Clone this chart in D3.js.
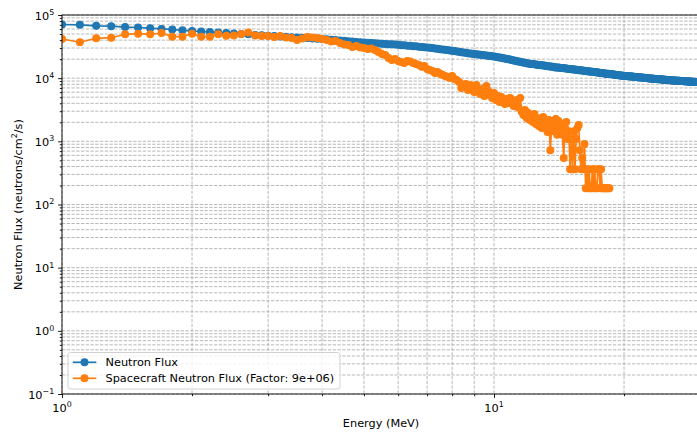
<!DOCTYPE html>
<html><head><meta charset="utf-8">
<script src="https://cdn.jsdelivr.net/npm/d3@7"></script>
<style>body{margin:0;background:#fff}svg{display:block;font-family:"DejaVu Sans",sans-serif}</style>
</head><body><svg id="c" width="697" height="432"></svg>
<script>
// Energy grid (MeV)
const energy = [
1.0,1.1,1.2,1.3,1.4,1.5,1.6,1.7,1.8,1.9,
2.0,2.1,2.2,2.3,2.4,2.5,2.6,2.7,2.8,2.9,
3.0,3.1,3.2,3.3,3.4,3.5,3.6,3.7,3.8,3.9,
4.0,4.1,4.2,4.3,4.4,4.5,4.6,4.7,4.8,4.9,
5.0,5.1,5.2,5.3,5.4,5.5,5.6,5.7,5.8,5.9,
6.0,6.1,6.2,6.3,6.4,6.5,6.6,6.7,6.8,6.9,
7.0,7.1,7.2,7.3,7.4,7.5,7.6,7.7,7.8,7.9,
8.0,8.1,8.2,8.3,8.4,8.5,8.6,8.7,8.8,8.9,
9.0,9.1,9.2,9.3,9.4,9.5,9.6,9.7,9.8,9.9,
10.0,10.1,10.2,10.3,10.4,10.5,10.6,10.7,10.8,10.9,
11.0,11.1,11.2,11.3,11.4,11.5,11.6,11.7,11.8,11.9,
12.0,12.1,12.2,12.3,12.4,12.5,12.6,12.7,12.8,12.9,
13.0,13.1,13.2,13.3,13.4,13.5,13.6,13.7,13.8,13.9,
14.0,14.1,14.2,14.3,14.4,14.5,14.6,14.7,14.8,14.9,
15.0,15.1,15.2,15.3,15.4,15.5,15.6,15.7,15.8,15.9,
16.0,16.1,16.2,16.3,16.4,16.5,16.6,16.7,16.8,16.9,
17.0,17.1,17.2,17.3,17.4,17.5,17.6,17.7,17.8,17.9,
18.0,18.1,18.2,18.3,18.4,18.5,18.6,18.7,18.8,18.9,
19.0,19.1,19.2,19.3,19.4,19.5,19.6,19.7,19.8,19.9,
20.0,20.1,20.2,20.3,20.4,20.5,20.6,20.7,20.8,20.9,
21.0,21.1,21.2,21.3,21.4,21.5,21.6,21.7,21.8,21.9,
22.0,22.1,22.2,22.3,22.4,22.5,22.6,22.7,22.8,22.9,
23.0,23.1,23.2,23.3,23.4,23.5,23.6,23.7,23.8,23.9,
24.0,24.1,24.2,24.3,24.4,24.5,24.6,24.7,24.8,24.9,
25.0,25.1,25.2,25.3,25.4,25.5,25.6,25.7,25.8,25.9,
26.0,26.1,26.2,26.3,26.4,26.5,26.6,26.7,26.8,26.9,
27.0,27.1,27.2,27.3,27.4,27.5,27.6,27.7,27.8,27.9,
28.0,28.1,28.2,28.3,28.4,28.5,28.6,28.7,28.8,28.9,
29.0,29.1,29.2,29.3,29.4,29.5,29.6,29.7,29.8,29.9,
30.0];

// Neutron Flux (neutrons/cm^2/s), one per energy
const neutronFlux = [
70700,69800,67400,66600,64500,63400,61800,60100,58900,57100,
55800,55000,53700,53000,51800,51000,50000,49500,48300,47800,
46900,46400,45600,45200,44500,44100,43500,43200,42500,42100,
41700,41300,40500,40100,39500,39100,38500,38200,37500,37200,
36700,36500,36000,35800,35400,35100,34900,34500,34300,34000,
33800,33300,33200,32700,32500,32100,31900,31500,31200,30900,
30600,30300,29900,29500,29200,28800,28500,28100,27800,27400,
27100,26900,26400,26200,25800,25500,25300,24900,24600,24400,
24200,23900,23700,23500,23200,23000,22800,22600,22400,22200,
22000,21800,21500,21200,21000,20700,20400,20200,19900,19700,
19400,19100,18900,18600,18400,18200,17900,17700,17500,17300,
17100,16900,16800,16700,16600,16400,16300,16200,16100,16000,
15900,15800,15600,15500,15400,15300,15200,15100,14900,14800,
14800,14700,14600,14500,14500,14400,14300,14200,14100,14000,
14000,13900,13800,13700,13700,13600,13500,13400,13400,13300,
13200,13100,13100,13000,12900,12900,12800,12700,12600,12600,
12500,12500,12400,12400,12300,12200,12200,12100,12100,12000,
11900,11900,11800,11800,11700,11600,11600,11500,11500,11400,
11300,11300,11200,11200,11100,11100,11000,11000,10950,10900,
10900,10870,10830,10800,10760,10730,10690,10660,10620,10590,
10550,10520,10480,10450,10410,10380,10350,10310,10280,10240,
10210,10180,10150,10120,10080,10050,10020,9990,9950,9920,
9890,9870,9840,9820,9790,9770,9740,9720,9690,9670,
9640,9620,9600,9570,9550,9530,9500,9480,9460,9430,
9410,9390,9370,9340,9320,9300,9280,9260,9240,9210,
9190,9180,9160,9150,9130,9120,9100,9090,9070,9060,
9040,9030,9010,9000,8980,8970,8950,8940,8920,8910,
8890,8880,8860,8850,8830,8820,8800,8790,8770,8760,
8740,8740,8730,8730,8720,8720,8720,8710,8710,8710,
8710];

// Spacecraft Neutron Flux, energies 1.0 .. 18.5 (first values of `energy`)
const spacecraftFlux = [
41700,37000,42800,43700,49500,50600,49500,51900,45400,45400,
50600,45400,45400,49500,46900,47500,50000,53000,47500,46500,
46500,44900,46500,44000,43300,40200,42500,44900,44000,43300,
41700,40200,38100,38800,36100,34200,33500,31100,32300,30600,
30100,29000,29500,27900,26000,24200,23300,20900,19400,20100,
18700,18100,17400,18700,18400,17400,16800,16200,15100,15600,
14000,13500,13000,12100,12500,11700,11300,10800,10500,10100,
10800,9730,9370,8710,7000,7500,8110,6500,7800,7000,
6050,7800,6500,5610,6750,5230,7500,6290,5420,4860,
5830,4520,5230,4200,5040,4520,3890,4690,4050,4860,
4360,3630,4050,4520,3400,4860,2920,2610,3140,2350,
2810,2180,2520,2020,2700,1880,2350,1750,2180,1630,
2430,1880,2020,1410,2180,724,1750,2020,1450,2260,
1270,2100,1630,1880,1270,543,1630,2020,1090,1450,
362,1090,362,1450,362,1090,1630,1810,724,362,
543,362,905,181,362,181,362,181,181,362,
181,362,181,181,362,362,181,362,181,181,
181,181,181,181,181,181];

const seriesNames = ["Neutron Flux", "Spacecraft Neutron Flux (Factor: 9e+06)"];
const seriesColors = ["#1f77b4", "#ff7f0e"];
const xMajorTicks = [1, 10];
const xTickExp = ["0", "1"];
const yMajorTicks = [0.1, 1, 10, 100, 1000, 10000, 100000];
const yTickExp = ["\u22121", "0", "1", "2", "3", "4", "5"];
const xLabel = "Energy (MeV)";

const FS = 11.3, SUP = 7.9;
const svg = d3.select("#c");
const L = 62, T = 15, B = 394;
const R = L + 432 * Math.log10(30);
const x = d3.scaleLog().domain([1, 30]).range([L, R]);
const y = d3.scaleLog().domain([0.1, 1e5]).range([B, T]);

// minor tick values
const xMinor = [];
[1, 10].forEach(d => { for (let k = 2; k <= 9; k++) { const v = k * d; if (v <= 30) xMinor.push(v); } });
const yMinor = [];
[0.1, 1, 10, 100, 1000, 10000].forEach(d => { for (let k = 2; k <= 9; k++) yMinor.push(k * d); });

// grid
const grid = svg.append("g").attr("stroke", "#b0b0b0").attr("stroke-width", 0.9).attr("stroke-dasharray", "3.3,1.45").attr("fill", "none");
[...xMajorTicks, ...xMinor].forEach(v => {
  grid.append("line").attr("x1", x(v)).attr("x2", x(v)).attr("y1", T).attr("y2", B);
});
[...yMajorTicks, ...yMinor].forEach(v => {
  grid.append("line").attr("x1", L).attr("x2", R).attr("y1", y(v)).attr("y2", y(v));
});

// data
svg.append("defs").append("clipPath").attr("id", "clip").append("rect")
  .attr("x", L).attr("y", T).attr("width", R - L).attr("height", B - T);
const plot = svg.append("g").attr("clip-path", "url(#clip)");
const line = d3.line().x(d => x(d[0])).y(d => y(d[1]));
const series = [
  energy.map((e, i) => [e, neutronFlux[i]]),
  spacecraftFlux.map((v, i) => [energy[i], v])
];
series.forEach((data, si) => {
  const g = plot.append("g");
  g.append("path").datum(data).attr("d", line).attr("fill", "none")
    .attr("stroke", seriesColors[si]).attr("stroke-width", 1.7).attr("stroke-linejoin", "round");
  g.selectAll("circle").data(data).join("circle")
    .attr("cx", d => x(d[0])).attr("cy", d => y(d[1])).attr("r", 3.45)
    .attr("fill", seriesColors[si]).attr("stroke", seriesColors[si]).attr("stroke-width", 1.1);
});

// axes (ticks via d3 axis)
const ax = svg.append("g");
ax.append("g").attr("transform", `translate(0,${B})`)
  .call(d3.axisBottom(x).tickValues(xMajorTicks).tickSize(3.9).tickSizeOuter(0).tickFormat(""))
  .call(g => g.select(".domain").remove());
ax.append("g").attr("transform", `translate(0,${B})`)
  .call(d3.axisBottom(x).tickValues(xMinor).tickSize(2.2).tickSizeOuter(0).tickFormat(""))
  .call(g => g.select(".domain").remove());
ax.append("g").attr("transform", `translate(${L},0)`)
  .call(d3.axisLeft(y).tickValues(yMajorTicks).tickSize(3.9).tickSizeOuter(0).tickFormat(""))
  .call(g => g.select(".domain").remove());
ax.append("g").attr("transform", `translate(${L},0)`)
  .call(d3.axisLeft(y).tickValues(yMinor).tickSize(2.2).tickSizeOuter(0).tickFormat(""))
  .call(g => g.select(".domain").remove());
ax.selectAll(".tick line").attr("stroke", "#000").attr("stroke-width", 0.9);

// spines
svg.append("rect").attr("x", L).attr("y", T).attr("width", R - L).attr("height", B - T)
  .attr("fill", "none").attr("stroke", "#000").attr("stroke-width", 0.9);

// tick labels
xMajorTicks.forEach((v, i) => {
  const t = svg.append("text").attr("x", x(v)).attr("y", 411.5).attr("text-anchor", "middle")
    .attr("font-size", FS).attr("fill", "#000");
  t.append("tspan").text("10");
  t.append("tspan").attr("font-size", SUP).attr("dy", -4.7).text(xTickExp[i]);
});
yMajorTicks.forEach((v, i) => {
  const t = svg.append("text").attr("x", L - 7.8).attr("y", y(v) + 4.6).attr("text-anchor", "end")
    .attr("font-size", FS).attr("fill", "#000");
  t.append("tspan").text("10");
  t.append("tspan").attr("font-size", SUP).attr("dy", -4.7).text(yTickExp[i]);
});

// axis labels
svg.append("text").attr("x", (L + R) / 2).attr("y", 427).attr("text-anchor", "middle")
  .attr("font-size", FS).text(xLabel);
const yl = svg.append("text").attr("transform", `translate(21.5,${(T + B) / 2}) rotate(-90)`)
  .attr("text-anchor", "middle").attr("font-size", FS);
yl.append("tspan").text("Neutron Flux (neutrons/cm");
yl.append("tspan").attr("font-size", SUP).attr("dy", -4.7).text("2");
yl.append("tspan").attr("dy", 4.7).text("/s)");

// legend
const lg = svg.append("g");
lg.append("rect").attr("x", 68).attr("y", 352.5).attr("width", 272).attr("height", 36.5)
  .attr("rx", 2.5).attr("fill", "#fff").attr("fill-opacity", 0.8).attr("stroke", "#cccccc").attr("stroke-width", 0.9);
seriesNames.forEach((name, i) => {
  const cy = 362.3 + i * 16;
  lg.append("line").attr("x1", 72.7).attr("x2", 96.3).attr("y1", cy).attr("y2", cy)
    .attr("stroke", seriesColors[i]).attr("stroke-width", 1.7);
  lg.append("circle").attr("cx", 84.5).attr("cy", cy).attr("r", 3.45)
    .attr("fill", seriesColors[i]).attr("stroke", seriesColors[i]).attr("stroke-width", 1.1);
  lg.append("text").attr("x", 105.5).attr("y", cy + 4).attr("font-size", FS).text(name);
});
</script></body></html>
